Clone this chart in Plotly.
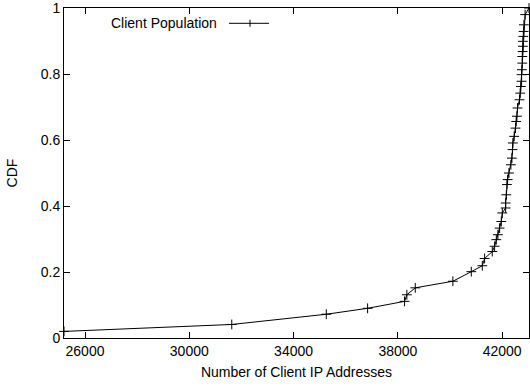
import plotly.graph_objects as go

# Data
num_client_ips = [25194, 31629, 35255, 36840, 38257, 38345, 38667, 40110, 40817, 41239,
                  41327, 41622, 41711, 41776, 41838, 41903, 41968, 42006, 42133, 42133,
                  42160, 42183, 42210, 42260, 42335, 42374, 42397, 42412, 42462, 42512,
                  42539, 42566, 42589, 42666, 42693, 42720, 42745, 42745, 42758, 42773,
                  42773, 42785, 42796, 42796, 42812, 42823, 42835, 42881, 43030]
cdf = [0.020, 0.041, 0.072, 0.090, 0.111, 0.131, 0.152, 0.172, 0.201, 0.219,
       0.241, 0.262, 0.278, 0.298, 0.313, 0.333, 0.353, 0.379, 0.394, 0.409,
       0.434, 0.465, 0.480, 0.500, 0.525, 0.545, 0.571, 0.591, 0.611, 0.636,
       0.656, 0.672, 0.697, 0.722, 0.742, 0.762, 0.778, 0.798, 0.813, 0.833,
       0.853, 0.868, 0.884, 0.899, 0.914, 0.929, 0.949, 0.980, 1.000]

x_ticks = [26000, 30000, 34000, 38000, 42000]
y_ticks = [0, 0.2, 0.4, 0.6, 0.8, 1]
y_tick_text = ["0", "0.2", "0.4", "0.6", "0.8", "1"]
series_name = "Client Population"

FONT = "Liberation Sans, Arial, Helvetica, sans-serif"

fig = go.Figure()
fig.add_trace(go.Scatter(
    x=num_client_ips, y=cdf, mode="lines+markers", name=series_name,
    line=dict(color="black", width=1),
    marker=dict(symbol="cross-thin-open", size=7, line=dict(color="black", width=1)),
    showlegend=False, cliponaxis=False,
))

# gnuplot-style legend: text right-aligned, then line sample with a marker
LEG_Y = 0.9536
fig.add_annotation(xref="paper", yref="paper", x=0.333, y=LEG_Y, text=series_name,
                   showarrow=False, xanchor="right", yanchor="middle",
                   font=dict(family=FONT, size=14, color="black"))
fig.add_shape(type="line", xref="paper", yref="paper", x0=0.3548, x1=0.4409,
              y0=LEG_Y, y1=LEG_Y, line=dict(color="black", width=1))
fig.add_shape(type="line", xref="paper", yref="paper", x0=0.4, x1=0.4,
              y0=LEG_Y - 0.0106, y1=LEG_Y + 0.0106, line=dict(color="black", width=1))

fig.update_layout(
    width=530, height=386,
    margin=dict(l=64, r=1, t=8, b=48),
    paper_bgcolor="white", plot_bgcolor="white",
    font=dict(family=FONT, size=14, color="black"),
    xaxis=dict(
        range=[25194, 43030], tickvals=x_ticks, ticktext=[str(v) for v in x_ticks],
        ticks="inside", ticklen=6, tickwidth=1, tickcolor="black",
        showline=True, linecolor="black", linewidth=1, mirror="allticks",
        showgrid=False, zeroline=False, ticklabeloverflow="allow",
        title=dict(text="Number of Client IP Addresses", standoff=9,
                   font=dict(family=FONT, size=14)),
        tickfont=dict(family=FONT, size=14),
    ),
    yaxis=dict(
        range=[0, 1.00001], tickvals=y_ticks, ticktext=y_tick_text,
        ticks="inside", ticklen=6, tickwidth=1, tickcolor="black",
        showline=True, linecolor="black", linewidth=1, mirror="allticks",
        showgrid=False, zeroline=False, ticklabeloverflow="allow",
        title=dict(text="CDF", standoff=19, font=dict(family=FONT, size=14)),
        tickfont=dict(family=FONT, size=14),
    ),
)

fig.write_html("out.html")
